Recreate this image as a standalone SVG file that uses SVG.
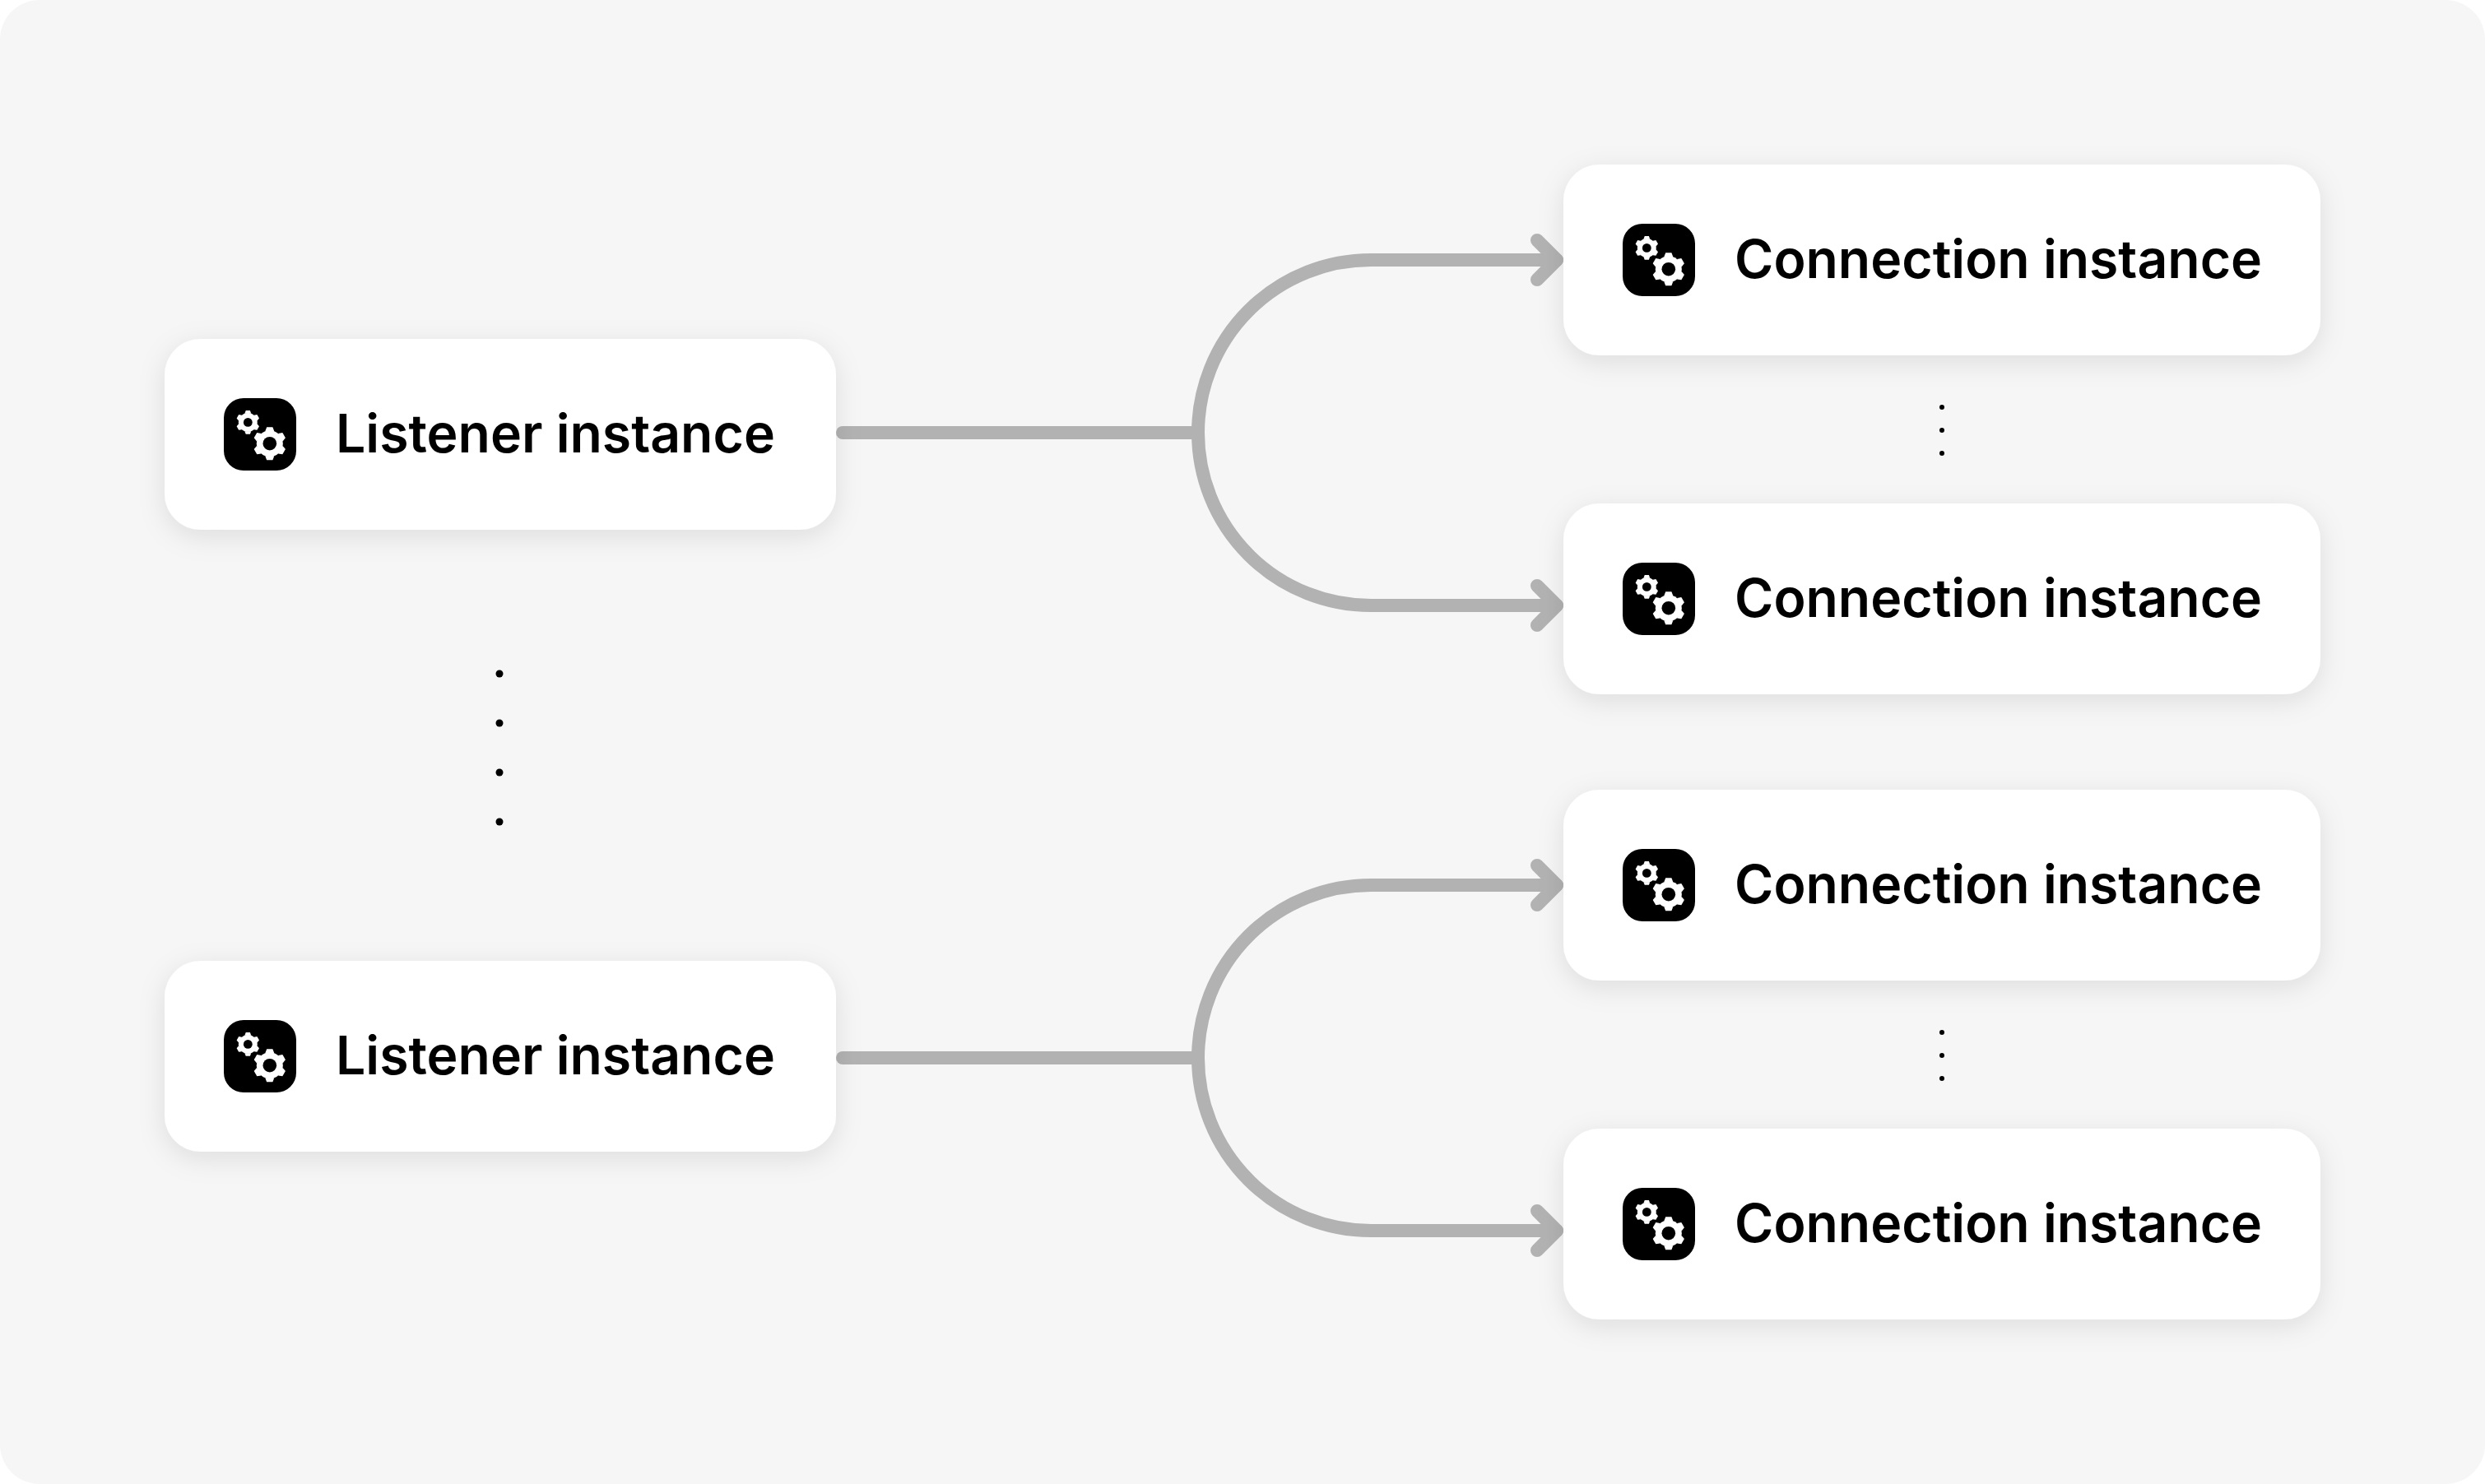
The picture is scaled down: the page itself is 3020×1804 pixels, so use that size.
<svg xmlns="http://www.w3.org/2000/svg" width="3020" height="1804" viewBox="0 0 3020 1804">
<style>
.card{fill:#fff;filter:url(#sh)}
.lbl{font-family:Inter,"Liberation Sans",sans-serif;font-weight:600;font-size:64.3px;fill:#000}
.wire{fill:none;stroke:#b2b2b2;stroke-width:16;stroke-linecap:round;stroke-linejoin:round}
.dot{fill:#000}
</style>
<defs>
<filter id="sh" x="-15%" y="-30%" width="130%" height="170%"><feDropShadow dx="0" dy="8" stdDeviation="16" flood-color="#000" flood-opacity="0.1"/></filter>
<path id="tooth" d="M-5.5-15-3.6-20H3.6L5.5-15Z" fill="#fff"/>
<g id="gear">
<circle r="16" fill="#fff"/>
<use href="#tooth"/><use href="#tooth" transform="rotate(60)"/><use href="#tooth" transform="rotate(120)"/><use href="#tooth" transform="rotate(180)"/><use href="#tooth" transform="rotate(240)"/><use href="#tooth" transform="rotate(300)"/>
</g>
<g id="icon">
<rect width="88" height="88" rx="24" fill="#000"/>
<use href="#gear" transform="translate(29.3 29.4) scale(.715)"/>
<circle cx="29.3" cy="29.4" r="5.4" fill="#000"/>
<use href="#gear" transform="translate(55.8 55.2)"/>
<circle cx="55.8" cy="55.2" r="8.3" fill="#000"/>
</g>
<g id="wires">
<path d="M1024 526H1456"/>
<path d="M1892 316H1666A210 210 0 0 0 1666 736H1892"/>
<path d="M1868 292L1892 316L1868 340M1868 712L1892 736L1868 760"/>
</g>
</defs>
<rect width="3020" height="1804" rx="48" fill="#f6f6f6"/>
<g id="connectors" class="wire">
<use href="#wires"/>
<use href="#wires" y="760"/>
</g>
<g id="listener-1"><rect class="card" x="200" y="412" width="816" height="232" rx="44"/><use href="#icon" x="272" y="484"/><text class="lbl" x="408" y="550">Listener instance</text></g>
<g id="listener-2"><rect class="card" x="200" y="1168" width="816" height="232" rx="44"/><use href="#icon" x="272" y="1240"/><text class="lbl" x="408" y="1306">Listener instance</text></g>
<g id="connection-1"><rect class="card" x="1900" y="200" width="920" height="232" rx="44"/><use href="#icon" x="1972" y="272"/><text class="lbl" x="2108" y="338">Connection instance</text></g>
<g id="connection-2"><rect class="card" x="1900" y="612" width="920" height="232" rx="44"/><use href="#icon" x="1972" y="684"/><text class="lbl" x="2108" y="750">Connection instance</text></g>
<g id="connection-3"><rect class="card" x="1900" y="960" width="920" height="232" rx="44"/><use href="#icon" x="1972" y="1032"/><text class="lbl" x="2108" y="1098">Connection instance</text></g>
<g id="connection-4"><rect class="card" x="1900" y="1372" width="920" height="232" rx="44"/><use href="#icon" x="1972" y="1444"/><text class="lbl" x="2108" y="1510">Connection instance</text></g>
<g id="dots">
<circle class="dot" cx="607" cy="819" r="4.5"/><circle class="dot" cx="607" cy="879" r="4.5"/><circle class="dot" cx="607" cy="939" r="4.5"/><circle class="dot" cx="607" cy="999" r="4.5"/>
<circle class="dot" cx="2360" cy="495" r="3"/><circle class="dot" cx="2360" cy="523" r="3"/><circle class="dot" cx="2360" cy="551" r="3"/>
<circle class="dot" cx="2360" cy="1255" r="3"/><circle class="dot" cx="2360" cy="1283" r="3"/><circle class="dot" cx="2360" cy="1311" r="3"/>
</g>
</svg>
